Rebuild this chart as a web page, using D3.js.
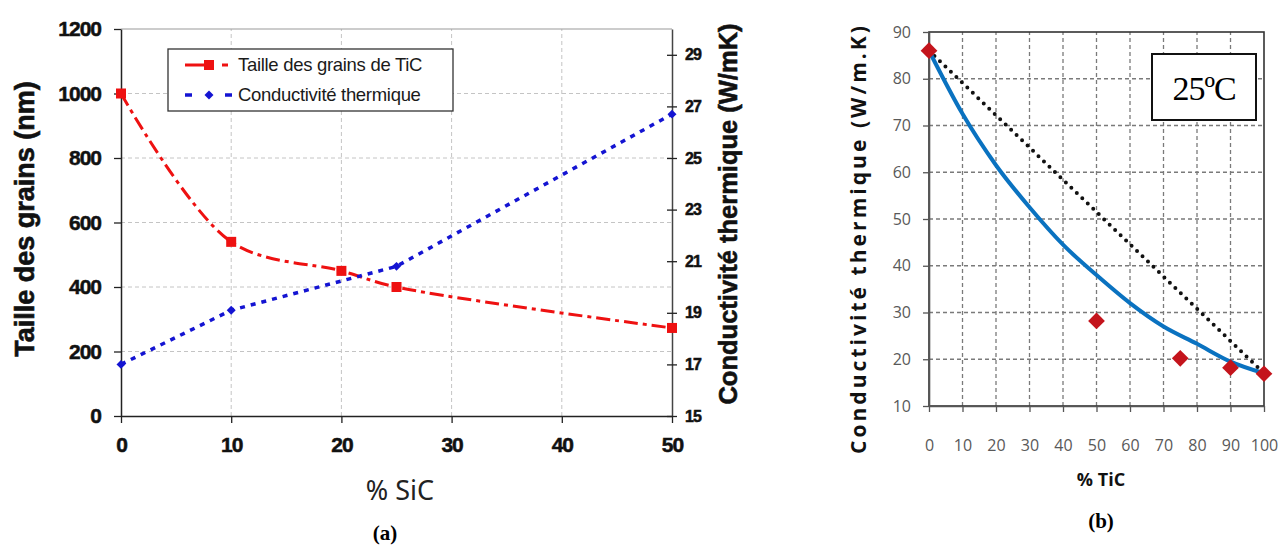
<!DOCTYPE html>
<html><head><meta charset="utf-8">
<script src="https://cdn.jsdelivr.net/npm/d3@7/dist/d3.min.js"></script>
<style>
html,body{margin:0;padding:0;background:#fff;}
svg{display:block;}
</style></head>
<body>
<svg id="c" width="1288" height="546"></svg>
<script>
// ---------- DATA: chart (a) ----------
const sicPct = [0, 10, 20, 25, 50];
const grainSize = [1000, 540, 450, 400, 273];
const sicPctCond = [0, 10, 25, 50];
const condA = [17.0, 19.1, 20.8, 26.7];
const aLeftTicks = [0, 200, 400, 600, 800, 1000, 1200];
const aRightTicks = [15, 17, 19, 21, 23, 25, 27, 29];
const aXTicks = [0, 10, 20, 30, 40, 50];
const aLegend = ["Taille des grains de TiC", "Conductivité thermique"];

// ---------- DATA: chart (b) ----------
const ticPctFit = [0, 10, 20, 30, 40, 50, 60, 70, 80, 90, 100];
const condFit = [86, 72.5, 61.5, 52.5, 44.5, 38, 32, 27, 23.3, 19.5, 17];
const ticPctMeas = [0, 50, 75, 90, 100];
const condMeas = [86, 28.2, 20.2, 18.2, 16.9];
const ticPctMix = [0, 100];
const condMix = [86, 17];
const bYTicks = [10, 20, 30, 40, 50, 60, 70, 80, 90];
const bXTicks = [0, 10, 20, 30, 40, 50, 60, 70, 80, 90, 100];

const svg = d3.select("#c");

// ================= CHART (a) =================
const xA = d3.scaleLinear().domain([0, 50]).range([121, 672]);
const yA = d3.scaleLinear().domain([0, 1200]).range([416, 29]);
const yA2 = d3.scaleLinear().domain([15, 30]).range([416, 29]);
const gA = svg.append("g");
const AF = "'Liberation Sans', Arial, sans-serif";

// grid
gA.append("g").selectAll("line").data(aXTicks.filter(d => d > 0 && d < 50)).join("line")
  .attr("x1", d => xA(d)).attr("x2", d => xA(d)).attr("y1", yA(0)).attr("y2", yA(1200))
  .attr("stroke", "#c4c4c4").attr("stroke-width", 1).attr("stroke-dasharray", "4,3");
gA.append("g").selectAll("line").data(aLeftTicks.filter(d => d > 0 && d < 1200)).join("line")
  .attr("x1", xA(0)).attr("x2", xA(50)).attr("y1", d => yA(d)).attr("y2", d => yA(d))
  .attr("stroke", "#c4c4c4").attr("stroke-width", 1).attr("stroke-dasharray", "4,3");
gA.append("line").attr("x1", xA(0)).attr("x2", xA(50)).attr("y1", yA(1200)).attr("y2", yA(1200))
  .attr("stroke", "#9a9a9a").attr("stroke-width", 1.2);

// axes
const axL = gA.append("g").attr("transform", `translate(${xA(0)},0)`)
  .call(d3.axisLeft(yA).tickValues(aLeftTicks).tickFormat(d3.format("d")).tickSize(7).tickPadding(13).tickSizeOuter(0));
const axR = gA.append("g").attr("transform", `translate(${xA(50)},0)`)
  .call(d3.axisRight(yA2).tickValues(aRightTicks).tickFormat(d3.format("d")).tickSize(5).tickPadding(8).tickSizeOuter(0));
axR.selectAll(".tick line").attr("x1", -5);
const axB = gA.append("g").attr("transform", `translate(0,${yA(0)})`)
  .call(d3.axisBottom(xA).tickValues(aXTicks).tickFormat(d3.format("d")).tickSize(7).tickPadding(14).tickSizeOuter(0));
[axL, axR, axB].forEach(a => {
  a.select(".domain").attr("stroke", "#222").attr("stroke-width", 1.5);
  a.selectAll(".tick line").attr("stroke", "#222").attr("stroke-width", 1.3);
  a.selectAll("text").attr("font-family", AF).attr("font-weight", "bold").attr("fill", "#111")
    .attr("stroke", "#111").attr("stroke-width", 0.5);
});
axR.select(".domain").attr("stroke", "#444");
axL.selectAll("text").attr("font-size", 21).attr("letter-spacing", -1);
axB.selectAll("text").attr("font-size", 21).attr("letter-spacing", -1);
axR.selectAll("text").attr("font-size", 16).attr("letter-spacing", -1);

// red smooth dash-dot line
const lineRed = d3.line().x((d, i) => xA(sicPct[i])).y(d => yA(d)).curve(d3.curveCatmullRom.alpha(0.5));
gA.append("path").datum(grainSize).attr("d", lineRed).attr("fill", "none")
  .attr("stroke", "#ee1111").attr("stroke-width", 3).attr("stroke-dasharray", "14,5,4,5");
gA.append("g").selectAll("rect").data(grainSize).join("rect")
  .attr("x", (d, i) => xA(sicPct[i]) - 5).attr("y", d => yA(d) - 5)
  .attr("width", 10).attr("height", 10).attr("fill", "#ee1111");

// blue dotted line
const lineBlue = d3.line().x((d, i) => xA(sicPctCond[i])).y(d => yA2(d));
gA.append("path").datum(condA).attr("d", lineBlue).attr("fill", "none")
  .attr("stroke", "#1414d2").attr("stroke-width", 3.5).attr("stroke-dasharray", "5,6");
const diamA = d3.symbol().type(d3.symbolSquare).size(40);
gA.append("g").selectAll("path").data(condA).join("path")
  .attr("d", diamA).attr("transform", (d, i) => `translate(${xA(sicPctCond[i])},${yA2(d)}) rotate(45)`)
  .attr("fill", "#1414d2");

// legend
const lg = gA.append("g");
lg.append("rect").attr("x", 168).attr("y", 49).attr("width", 285).attr("height", 62)
  .attr("fill", "#fff").attr("stroke", "#333").attr("stroke-width", 1.3);
lg.append("line").attr("x1", 185).attr("x2", 206).attr("y1", 65).attr("y2", 65)
  .attr("stroke", "#ee1111").attr("stroke-width", 3);
lg.append("line").attr("x1", 222).attr("x2", 228).attr("y1", 65).attr("y2", 65)
  .attr("stroke", "#ee1111").attr("stroke-width", 3);
lg.append("rect").attr("x", 204).attr("y", 60).attr("width", 10).attr("height", 10).attr("fill", "#ee1111");
lg.append("line").attr("x1", 185).attr("x2", 192).attr("y1", 95).attr("y2", 95)
  .attr("stroke", "#1414d2").attr("stroke-width", 3.5);
lg.append("line").attr("x1", 225).attr("x2", 232).attr("y1", 95).attr("y2", 95)
  .attr("stroke", "#1414d2").attr("stroke-width", 3.5);
lg.append("path").attr("d", diamA).attr("transform", "translate(209,95) rotate(45)").attr("fill", "#1414d2");
lg.selectAll("text").data(aLegend).join("text")
  .attr("x", 238).attr("y", (d, i) => 71 + i * 30).text(d => d)
  .attr("font-family", AF).attr("font-size", 18.5).attr("fill", "#1a1a1a").attr("letter-spacing", -0.3);

// axis titles
gA.append("text").attr("transform", `translate(34,219) rotate(-90)`).attr("text-anchor", "middle")
  .attr("font-family", AF).attr("font-weight", "bold").attr("font-size", 27).attr("fill", "#111")
  .attr("stroke", "#111").attr("stroke-width", 0.6)
  .text("Taille des grains (nm)");
gA.append("text").attr("transform", `translate(737,214) rotate(-90)`).attr("text-anchor", "middle")
  .attr("font-family", AF).attr("font-weight", "bold").attr("font-size", 25.5).attr("fill", "#111")
  .attr("stroke", "#111").attr("stroke-width", 0.6)
  .text("Conductivité thermique (W/mK)");
gA.append("text").attr("x", 400).attr("y", 500).attr("text-anchor", "middle")
  .attr("font-family", "'Noto Sans', sans-serif").attr("font-size", 27).attr("fill", "#222")
  .text("% SiC");
gA.append("text").attr("x", 385).attr("y", 540).attr("text-anchor", "middle")
  .attr("font-family", "'Liberation Serif', serif").attr("font-weight", "bold").attr("font-size", 21).attr("fill", "#000")
  .text("(a)");

// ================= CHART (b) =================
const xB = d3.scaleLinear().domain([0, 100]).range([929, 1264]);
const yB = d3.scaleLinear().domain([10, 90]).range([406, 32]);
const gB = svg.append("g");
const BF = "'Open Sans', 'Noto Sans', sans-serif";

gB.append("g").selectAll("line").data(bXTicks.filter(d => d > 0 && d < 100)).join("line")
  .attr("x1", d => xB(d)).attr("x2", d => xB(d)).attr("y1", yB(10)).attr("y2", yB(90))
  .attr("stroke", "#7a7a7a").attr("stroke-width", 1.3).attr("stroke-dasharray", "4,3");
gB.append("g").selectAll("line").data(bYTicks.filter(d => d > 10 && d < 90)).join("line")
  .attr("x1", xB(0)).attr("x2", xB(100)).attr("y1", d => yB(d)).attr("y2", d => yB(d))
  .attr("stroke", "#7a7a7a").attr("stroke-width", 1.3).attr("stroke-dasharray", "4,3");
gB.append("rect").attr("x", xB(0)).attr("y", yB(90)).attr("width", xB(100) - xB(0)).attr("height", yB(10) - yB(90))
  .attr("fill", "none").attr("stroke", "#333").attr("stroke-width", 1.6);

const bxL = gB.append("g").attr("transform", `translate(${xB(0)},0)`)
  .call(d3.axisLeft(yB).tickValues(bYTicks).tickSize(6).tickPadding(12).tickSizeOuter(0));
const bxB = gB.append("g").attr("transform", `translate(0,${yB(10)})`)
  .call(d3.axisBottom(xB).tickValues(bXTicks).tickSize(6).tickPadding(28).tickSizeOuter(0));
[bxL, bxB].forEach(a => {
  a.select(".domain").attr("stroke", "#555").attr("stroke-width", 1.6);
  a.selectAll(".tick line").attr("stroke", "#555").attr("stroke-width", 1.3);
  a.selectAll("text").attr("font-family", BF).attr("font-size", 16).attr("fill", "#595959");
});

// rule-of-mixture dotted line
const lineMix = d3.line().x((d, i) => xB(ticPctMix[i])).y(d => yB(d));
gB.append("path").datum(condMix).attr("d", lineMix).attr("fill", "none")
  .attr("stroke", "#111").attr("stroke-width", 4).attr("stroke-linecap", "round").attr("stroke-dasharray", "0,7.6");
// fit curve
const lineFit = d3.line().x((d, i) => xB(ticPctFit[i])).y(d => yB(d)).curve(d3.curveMonotoneX);
gB.append("path").datum(condFit).attr("d", lineFit).attr("fill", "none")
  .attr("stroke", "#0a72c0").attr("stroke-width", 4);
// measured diamonds
const diamB = d3.symbol().type(d3.symbolSquare).size(140);
gB.append("g").selectAll("path").data(condMeas).join("path")
  .attr("d", diamB).attr("transform", (d, i) => `translate(${xB(ticPctMeas[i])},${yB(d)}) rotate(45)`)
  .attr("fill", "#c4141c");

// 25°C box
gB.append("rect").attr("x", 1152).attr("y", 54).attr("width", 104).attr("height", 66)
  .attr("fill", "#fff").attr("stroke", "#111").attr("stroke-width", 2);
gB.append("text").attr("x", 1204).attr("y", 100).attr("text-anchor", "middle")
  .attr("font-family", "'Liberation Serif', serif").attr("font-size", 34).attr("fill", "#000")
  .attr("letter-spacing", -1).text("25ºC");

// titles
gB.append("text").attr("transform", `translate(866,240) rotate(-90)`).attr("text-anchor", "middle")
  .attr("font-family", BF).attr("font-weight", "bold").attr("font-size", 21).attr("fill", "#111")
  .attr("textLength", 428).attr("lengthAdjust", "spacing")
  .text("Conductivité thermique (W/m.K)");
gB.append("text").attr("x", 1101).attr("y", 486).attr("text-anchor", "middle")
  .attr("font-family", BF).attr("font-weight", "bold").attr("font-size", 18).attr("fill", "#111")
  .text("% TiC");
gB.append("text").attr("x", 1101).attr("y", 528).attr("text-anchor", "middle")
  .attr("font-family", "'Liberation Serif', serif").attr("font-weight", "bold").attr("font-size", 21).attr("fill", "#000")
  .text("(b)");
</script>
</body></html>
